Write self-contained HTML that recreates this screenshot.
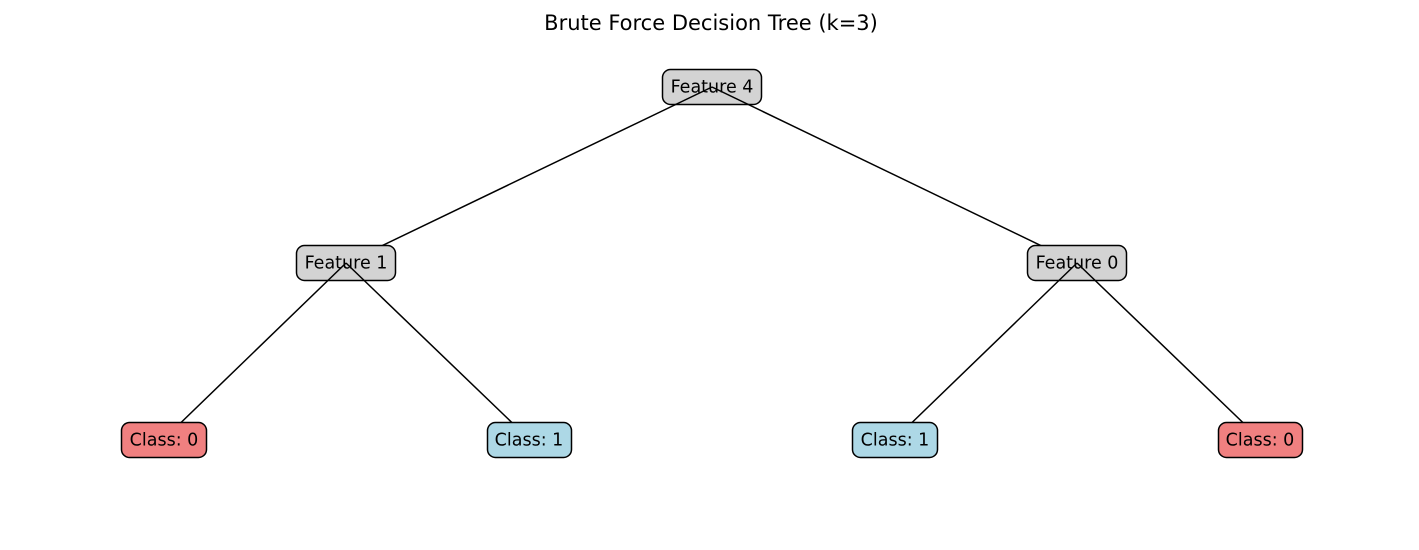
<!DOCTYPE html>
<html><head><meta charset="utf-8"><style>body{margin:0;background:#fff}svg{display:block}</style></head><body>
<svg width="1419" height="550" xmlns="http://www.w3.org/2000/svg" font-family="DejaVu Sans, Liberation Sans, sans-serif">
<rect width="1419" height="550" fill="#fff"/>
<text x="711" y="30" font-size="21" text-anchor="middle">Brute Force Decision Tree (k=3)</text>
<g stroke="#000" stroke-width="1.5">
<rect x="662.5" y="69.5" width="99" height="35" rx="8" fill="#d3d3d3"/>
</g>
<text x="712" y="92.5" font-size="17.5" text-anchor="middle">Feature 4</text>
<g stroke="#000" stroke-width="1.5" fill="none">
<line x1="712" y1="87" x2="346" y2="263"/>
<line x1="712" y1="87" x2="1077" y2="263"/>
</g>
<g stroke="#000" stroke-width="1.5" fill="#d3d3d3">
<rect x="296.5" y="245.5" width="99" height="35" rx="8"/>
<rect x="1027.5" y="245.5" width="99" height="35" rx="8"/>
</g>
<g font-size="17.5" text-anchor="middle">
<text x="346" y="268.5">Feature 1</text>
<text x="1077" y="268.5">Feature 0</text>
</g>
<g stroke="#000" stroke-width="1.5" fill="none">
<line x1="346" y1="263" x2="164" y2="439"/>
<line x1="346" y1="263" x2="529" y2="439"/>
<line x1="1077" y1="263" x2="895" y2="439"/>
<line x1="1077" y1="263" x2="1260" y2="439"/>
</g>
<g stroke="#000" stroke-width="1.5">
<rect x="121.5" y="422.5" width="85" height="35" rx="8" fill="#f08080"/>
<rect x="487.5" y="422.5" width="84" height="35" rx="8" fill="#add8e6"/>
<rect x="852.5" y="422.5" width="85" height="35" rx="8" fill="#add8e6"/>
<rect x="1218.5" y="422.5" width="84" height="35" rx="8" fill="#f08080"/>
</g>
<g font-size="17.5" text-anchor="middle">
<text x="164" y="445.5">Class: 0</text>
<text x="529" y="445.5">Class: 1</text>
<text x="895" y="445.5">Class: 1</text>
<text x="1260" y="445.5">Class: 0</text>
</g>
</svg>
</body></html>
